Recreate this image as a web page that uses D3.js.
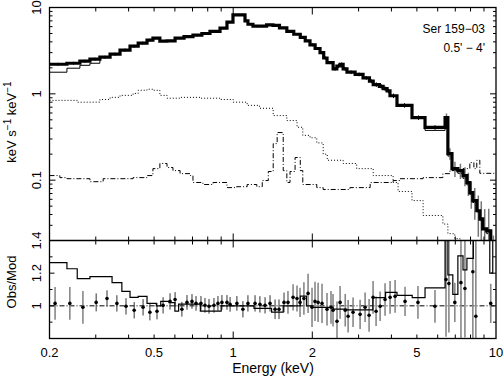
<!DOCTYPE html>
<html>
<head>
<meta charset="utf-8">
<script src="https://cdn.jsdelivr.net/npm/d3@7"></script>
<style>
  body { margin: 0; background: #fff; }
  text { font-family: "Liberation Sans", Arial, sans-serif; fill: #000; }
</style>
</head>
<body>
<svg id="chart" width="504" height="377"></svg>
<script>
// ---- data ----
// observed spectrum: bin edges (keV) and counts (keV s^-1 keV^-1)
const specEdges = [0.2, 0.233, 0.261, 0.285, 0.311, 0.340, 0.371, 0.405, 0.435, 0.470,
  0.495, 0.526, 0.56, 0.601, 0.65, 0.703, 0.76, 0.816, 0.891, 0.947,
  0.998, 1.109, 1.138, 1.189, 1.264, 1.34, 1.417, 1.5, 1.6, 1.7,
  1.8, 1.88, 1.96, 2.05, 2.14, 2.21, 2.275, 2.4, 2.48, 2.55,
  2.62, 2.71, 2.91, 3.12, 3.3, 3.41, 3.6, 3.72, 3.85, 3.95,
  4.2, 4.79, 5.37, 6.4, 6.56, 6.8, 7.16, 7.49, 7.75, 7.95,
  8.16, 8.45, 8.68, 8.9, 9.22, 9.55, 10];
const specVals = [2.20, 2.26, 2.39, 2.52, 2.66, 2.88, 3.21, 3.57, 3.87, 4.19,
  4.42, 4.08, 4.10, 4.42, 4.6, 4.79, 5.0, 5.3, 5.78, 6.78,
  8.2, 7.0, 6.4, 6.1, 6.1, 6.3, 6.2, 5.8, 5.3, 4.9,
  4.5, 4.1, 3.7, 3.35, 3.0, 2.6, 2.3, 1.95, 2.1, 2.2,
  1.95, 1.78, 1.68, 1.53, 1.4, 1.28, 1.22, 1.15, 1.08, 0.95,
  0.735, 0.53, 0.408, 0.53, 0.203, 0.136, 0.129, 0.113, 0.0935, 0.0716,
  0.0578, 0.0442, 0.0357, 0.0273, 0.0259, 0.012];
// fractional errors of the spectrum
const specErr = [0.04, 0.04, 0.04, 0.04, 0.04, 0.04, 0.04, 0.04, 0.04, 0.04,
  0.03, 0.03, 0.03, 0.03, 0.03, 0.03, 0.03, 0.03, 0.03, 0.03,
  0.03, 0.03, 0.03, 0.03, 0.03, 0.03, 0.03, 0.03, 0.03, 0.03,
  0.03, 0.03, 0.04, 0.04, 0.04, 0.04, 0.04, 0.05, 0.05, 0.05,
  0.05, 0.05, 0.05, 0.05, 0.05, 0.06, 0.06, 0.06, 0.06, 0.06,
  0.06, 0.06, 0.06, 0.12, 0.15, 0.2, 0.2, 0.25, 0.3, 0.35,
  0.4, 0.5, 0.6, 0.7, 0.8, 0.9];
// total model, same bins
const modelVals = [1.78, 1.98, 2.14, 2.26, 2.66, 2.88, 3.21, 3.57, 3.87, 4.19,
  4.42, 4.08, 4.10, 4.42, 4.6, 4.79, 5.0, 5.3, 5.78, 6.78,
  8.2, 7.0, 6.4, 6.1, 6.1, 6.3, 6.2, 5.8, 5.3, 4.9,
  4.5, 4.1, 3.7, 3.35, 3.0, 2.6, 2.3, 1.95, 2.1, 2.2,
  1.95, 1.78, 1.68, 1.53, 1.4, 1.28, 1.22, 1.15, 1.08, 0.95,
  0.735, 0.53, 0.377, 0.45, 0.19, 0.13, 0.12, 0.105, 0.088, 0.068,
  0.055, 0.043, 0.034, 0.027, 0.024, 0.013];

// dotted component
const dotEdges = [0.2, 0.255, 0.311, 0.34, 0.371, 0.416, 0.435, 0.47, 0.495, 0.526,
  0.56, 0.628, 0.748, 0.891, 1.0, 1.13, 1.26, 1.42, 1.6, 1.75,
  1.84, 1.96, 2.08, 2.2, 2.28, 2.62, 2.95, 3.41, 4.06, 4.24,
  4.79, 5.28, 6.28, 6.56, 6.97, 7.3, 10];
const dotVals = [0.84, 0.80, 0.86, 0.91, 0.96, 1.01, 1.10, 1.13, 1.10, 0.96,
  0.89, 0.91, 0.89, 0.86, 0.80, 0.735, 0.68, 0.56, 0.49, 0.41,
  0.33, 0.31, 0.27, 0.20, 0.17, 0.156, 0.136, 0.113, 0.094, 0.074,
  0.058, 0.039, 0.031, 0.024, 0.021, 0.015];

// dash-dot component
const dashEdges = [0.2, 0.219, 0.233, 0.285, 0.32, 0.416, 0.47, 0.495, 0.526, 0.56,
  0.59, 0.628, 0.686, 0.703, 0.767, 0.838, 0.947, 1.03, 1.13, 1.23,
  1.29, 1.36, 1.42, 1.47, 1.55, 1.6, 1.645, 1.72, 1.8, 1.84,
  2.08, 2.2, 2.78, 3.32, 4.06, 4.31, 5.28, 6.28, 6.68, 7.49,
  7.95, 8.24, 8.45, 8.68, 10];
const dashVals = [0.113, 0.107, 0.104, 0.096, 0.104, 0.107, 0.113, 0.136, 0.156, 0.14,
  0.129, 0.119, 0.113, 0.094, 0.089, 0.094, 0.082, 0.084, 0.089, 0.084,
  0.099, 0.126, 0.265, 0.356, 0.129, 0.094, 0.126, 0.183, 0.129, 0.089,
  0.082, 0.078, 0.082, 0.094, 0.099, 0.104, 0.107, 0.119, 0.129, 0.136,
  0.16, 0.136, 0.17, 0.12];

// ratio panel: step line
const ratEdges = [0.2, 0.233, 0.255, 0.285, 0.346, 0.377, 0.405, 0.435, 0.47, 0.51,
  0.53, 0.57, 0.6, 0.62, 0.75, 0.9, 1.2, 1.4, 1.55, 1.8,
  1.9, 2.0, 2.4, 2.7, 3.4, 3.8, 4.2, 4.8, 5.37, 6.4,
  6.56, 6.85, 7.16, 7.49, 7.75, 8.2, 9.47, 9.72, 10];
const ratVals = [1.264, 1.227, 1.167, 1.179, 1.142, 1.088, 1.052, 1.058, 1.015, 1.0,
  1.027, 1.02, 0.967, 1.01, 0.968, 1.0, 0.985, 0.962, 1.0, 1.06,
  1.0, 0.99, 0.98, 0.975, 1.05, 1.082, 1.064, 1.05, 1.11, 1.5,
  1.19, 1.07, 1.306, 1.22, 1.29, 1.5, 1.2, 1.5];

// ratio panel: points
const ptE = [0.210, 0.239, 0.268, 0.301, 0.331, 0.361, 0.391, 0.420, 0.454, 0.482,
  0.513, 0.541, 0.575, 0.601, 0.638, 0.667, 0.697, 0.722, 0.754, 0.781,
  0.809, 0.845, 0.875, 0.906, 0.947, 0.973, 1.033, 1.089, 1.138, 1.211,
  1.264, 1.322, 1.381, 1.443, 1.494, 1.561, 1.616, 1.690, 1.749, 1.796,
  1.858, 1.927, 1.995, 2.048, 2.104, 2.178, 2.275, 2.356, 2.398, 2.483,
  2.551, 2.669, 2.737, 2.858, 3.04, 3.176, 3.289, 3.406, 3.497, 3.623,
  3.783, 3.953, 4.131, 4.507, 5.047, 5.859, 6.454, 6.619, 6.971, 7.356,
  7.617, 8.164, 8.381, 9.55];
const ptV = [1.015, 1.015, 0.991, 1.021, 1.045, 1.015, 0.997, 0.973, 0.991, 0.961,
  0.967, 1.003, 1.027, 1.039, 0.979, 1.021, 1.027, 1.015, 1.015, 1.003,
  0.997, 1.003, 1.015, 1.021, 1.021, 1.009, 1.015, 0.979, 1.015, 1.015,
  1.009, 1.003, 1.015, 0.979, 0.979, 1.021, 1.021, 1.052, 1.045, 1.021,
  1.045, 1.076, 0.991, 1.027, 1.021, 1.015, 0.979, 0.991, 0.973, 0.906,
  1.021, 0.973, 0.936, 0.961, 0.948, 0.991, 0.942, 1.052, 0.967, 0.997,
  1.039, 1.052, 1.058, 1.027, 1.021, 0.997, 1.161, 1.136, 1.021, 1.142,
  1.106, 1.209, 0.936, 1.015];
const ptErr = [0.1, 0.1, 0.1, 0.055, 0.05, 0.05, 0.05, 0.05, 0.05, 0.05,
  0.05, 0.05, 0.05, 0.045, 0.045, 0.045, 0.045, 0.045, 0.045, 0.045,
  0.045, 0.045, 0.045, 0.045, 0.045, 0.045, 0.045, 0.05, 0.05, 0.05,
  0.05, 0.05, 0.05, 0.06, 0.06, 0.06, 0.07, 0.08, 0.08, 0.09,
  0.1, 0.12, 0.12, 0.12, 0.12, 0.12, 0.1, 0.1, 0.1, 0.12,
  0.1, 0.1, 0.1, 0.09, 0.09, 0.09, 0.1, 0.1, 0.09, 0.09,
  0.1, 0.1, 0.1, 0.09, 0.1, 0.1, 0.35, 0.3, 0.12, 0.4,
  0.3, 0.5, 0.5, 0.12];

const xTickLabels = [0.2, 0.5, 1, 2, 5, 10];
const yTopLabels = [0.1, 1, 10];
const yBotLabels = [1, 1.2, 1.4];

// ---- layout ----
const pLeft = 49.5, pRight = 496, pTop = 7.5, pMid = 240.5, pBottom = 338.5;
const svg = d3.select('#chart');

const x = d3.scaleLog().domain([0.2, 10]).range([pLeft, pRight]);
const yTop = d3.scaleLog().domain([0.02, 10]).range([pMid, pTop]);
const yBot = d3.scaleLinear().domain([0.8, 1.4]).range([pBottom, pMid]);

const defs = svg.append('defs');
defs.append('clipPath').attr('id', 'clipTop')
  .append('rect').attr('x', pLeft).attr('y', pTop).attr('width', pRight - pLeft).attr('height', pMid - pTop);
defs.append('clipPath').attr('id', 'clipBot')
  .append('rect').attr('x', pLeft).attr('y', pMid).attr('width', pRight - pLeft).attr('height', pBottom - pMid);

function stepPts(edges, vals) {
  const pts = vals.map((v, i) => [edges[i], v]);
  pts.push([edges[edges.length - 1], vals[vals.length - 1]]);
  return pts;
}
function stepLine(ys) {
  return d3.line().x(d => x(d[0])).y(d => ys(d[1])).curve(d3.curveStepAfter);
}

// ---- top panel ----
const gTop = svg.append('g').attr('clip-path', 'url(#clipTop)');

gTop.append('path')
  .attr('d', stepLine(yTop)(stepPts(dotEdges, dotVals)))
  .attr('fill', 'none').attr('stroke', '#000').attr('stroke-width', 1)
  .attr('stroke-dasharray', '1,2');

gTop.append('path')
  .attr('d', stepLine(yTop)(stepPts(dashEdges, dashVals)))
  .attr('fill', 'none').attr('stroke', '#000').attr('stroke-width', 1)
  .attr('stroke-dasharray', '5,2,1,2');

gTop.append('path')
  .attr('d', stepLine(yTop)(stepPts(specEdges, modelVals)))
  .attr('fill', 'none').attr('stroke', '#000').attr('stroke-width', 1);

// spectrum error bars
const specCenters = specVals.map((v, i) => Math.sqrt(specEdges[i] * specEdges[i + 1]));
gTop.selectAll('line.serr')
  .data(specVals)
  .enter()
  .append('line')
  .attr('class', 'serr')
  .attr('x1', (d, i) => x(specCenters[i]))
  .attr('x2', (d, i) => x(specCenters[i]))
  .attr('y1', (d, i) => yTop(d * (1 + specErr[i])))
  .attr('y2', (d, i) => yTop(Math.max(d * (1 - specErr[i]), 0.001)))
  .attr('stroke', (d, i) => specErr[i] > 0.1 ? '#777' : '#000')
  .attr('stroke-width', (d, i) => specErr[i] > 0.1 ? 1.5 : 1);

gTop.append('path')
  .attr('d', stepLine(yTop)(stepPts(specEdges, specVals)))
  .attr('fill', 'none').attr('stroke', '#000').attr('stroke-width', 3.2);

// ---- bottom panel ----
const gBot = svg.append('g').attr('clip-path', 'url(#clipBot)');

gBot.append('line')
  .attr('x1', pLeft).attr('x2', pRight)
  .attr('y1', yBot(1)).attr('y2', yBot(1))
  .attr('stroke', '#000').attr('stroke-width', 1)
  .attr('stroke-dasharray', '5,2,1,2');

gBot.selectAll('line.perr')
  .data(ptV)
  .enter()
  .append('line')
  .attr('class', 'perr')
  .attr('x1', (d, i) => x(ptE[i]))
  .attr('x2', (d, i) => x(ptE[i]))
  .attr('y1', (d, i) => yBot(d + ptErr[i]))
  .attr('y2', (d, i) => yBot(d - ptErr[i]))
  .attr('stroke', (d, i) => ptErr[i] > 0.06 ? '#888' : '#333')
  .attr('stroke-width', (d, i) => ptErr[i] > 0.06 ? 1.6 : 1);

gBot.append('path')
  .attr('d', stepLine(yBot)(stepPts(ratEdges, ratVals)))
  .attr('fill', 'none').attr('stroke', '#000').attr('stroke-width', 1.2);

gBot.selectAll('circle')
  .data(ptV)
  .enter()
  .append('circle')
  .attr('cx', (d, i) => x(ptE[i]))
  .attr('cy', d => yBot(d))
  .attr('r', 1.8)
  .attr('fill', '#000');

// ---- frames and ticks ----
const axes = svg.append('g').attr('stroke', '#000').attr('fill', 'none');
axes.append('rect').attr('x', pLeft).attr('y', pTop)
  .attr('width', pRight - pLeft).attr('height', pBottom - pTop).attr('stroke-width', 1.3);
axes.append('line').attr('x1', pLeft).attr('x2', pRight)
  .attr('y1', pMid).attr('y2', pMid).attr('stroke-width', 1.6);

const xTicks = [];
for (let v = 0.3; v < 1.05; v += 0.1) xTicks.push(+v.toFixed(1));
for (let v = 2; v < 10; v++) xTicks.push(v);
const xLong = v => v === 1 || v === 2;

function tick(x1, y1, x2, y2) {
  axes.append('line').attr('x1', x1).attr('y1', y1).attr('x2', x2).attr('y2', y2).attr('stroke-width', 1);
}
xTicks.forEach(v => {
  const px = x(v), len = xLong(v) ? 7 : 4;
  tick(px, pTop, px, pTop + len);
  tick(px, pMid - len, px, pMid + len);
  tick(px, pBottom, px, pBottom - len);
});

const yTopTicks = [];
[0.01, 0.1, 1].forEach(dec => {
  for (let k = 1; k <= 9; k++) yTopTicks.push({ v: dec * k, major: k === 1 });
});
yTopTicks.push({ v: 10, major: true });
yTopTicks.filter(t => t.v >= 0.02 && t.v <= 10).forEach(t => {
  const py = yTop(t.v), len = t.major ? 6 : 3;
  tick(pLeft, py, pLeft + len, py);
  tick(pRight, py, pRight - len, py);
});

[0.9, 1.0, 1.1, 1.2, 1.3].forEach(v => {
  const py = yBot(v), len = Math.abs(v * 10 % 2) < 0.01 ? 5 : 3;
  tick(pLeft, py, pLeft + len, py);
  tick(pRight, py, pRight - len, py);
});

// ---- labels ----
svg.selectAll('text.xl')
  .data(xTickLabels)
  .enter()
  .append('text')
  .attr('class', 'xl')
  .attr('x', d => x(d))
  .attr('y', 357)
  .attr('text-anchor', 'middle')
  .attr('font-size', '13px')
  .text(d => d);

svg.selectAll('text.ytl')
  .data(yTopLabels)
  .enter()
  .append('text')
  .attr('class', 'ytl')
  .attr('transform', d => 'translate(41,' + yTop(d) + ') rotate(-90)')
  .attr('text-anchor', 'middle')
  .attr('font-size', '13px')
  .text(d => d);

svg.selectAll('text.ybl')
  .data(yBotLabels)
  .enter()
  .append('text')
  .attr('class', 'ybl')
  .attr('transform', d => 'translate(41,' + yBot(d) + ') rotate(-90)')
  .attr('text-anchor', 'middle')
  .attr('font-size', '13px')
  .text(d => d);

svg.append('text')
  .attr('x', 273).attr('y', 373)
  .attr('text-anchor', 'middle')
  .attr('font-size', '14px')
  .text('Energy (keV)');

const yt = svg.append('text')
  .attr('transform', 'translate(16,122) rotate(-90)')
  .attr('text-anchor', 'middle')
  .attr('font-size', '13px');
yt.append('tspan').text('keV s');
yt.append('tspan').attr('dy', -5).attr('font-size', '10px').text('\u22121');
yt.append('tspan').attr('dy', 5).text(' keV');
yt.append('tspan').attr('dy', -5).attr('font-size', '10px').text('\u22121');

svg.append('text')
  .attr('transform', 'translate(16,282) rotate(-90)')
  .attr('text-anchor', 'middle')
  .attr('font-size', '13px')
  .text('Obs/Mod');

svg.append('text')
  .attr('x', 485).attr('y', 33)
  .attr('text-anchor', 'end')
  .attr('font-size', '12px')
  .text('Ser 159\u221203');

svg.append('text')
  .attr('x', 485).attr('y', 52)
  .attr('text-anchor', 'end')
  .attr('font-size', '12px')
  .text("0.5' \u2212 4'");
</script>
</body>
</html>
